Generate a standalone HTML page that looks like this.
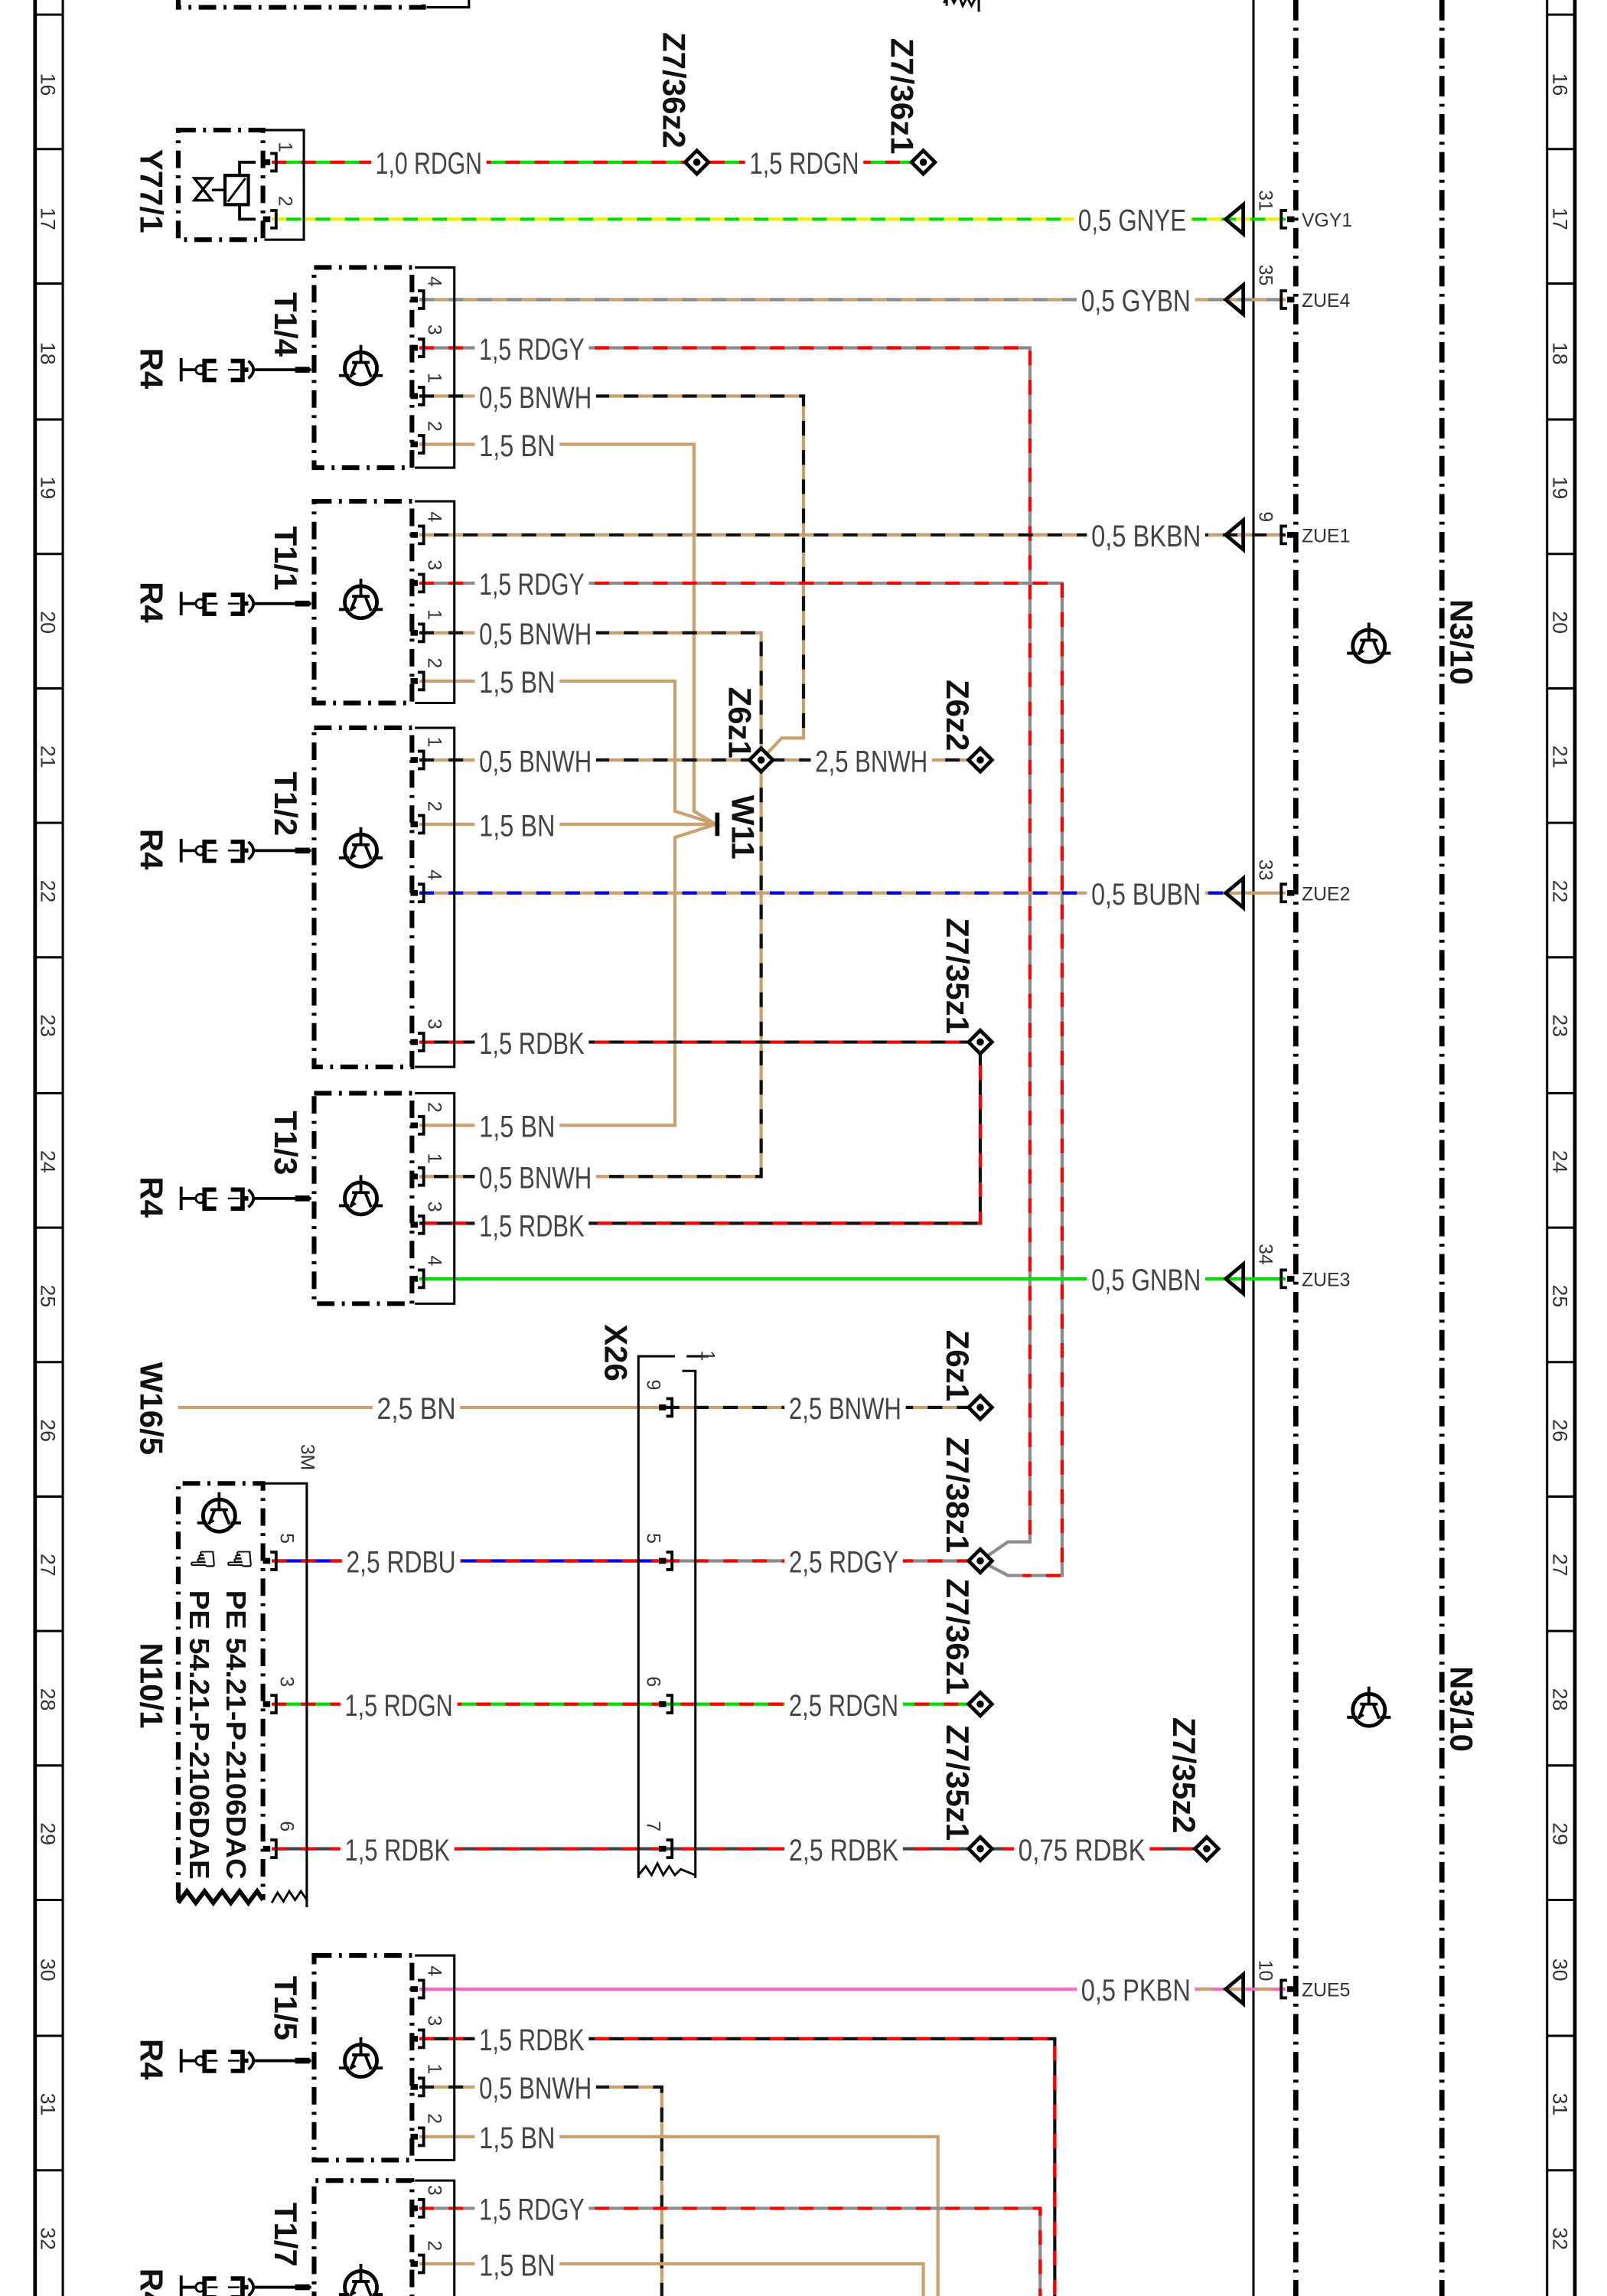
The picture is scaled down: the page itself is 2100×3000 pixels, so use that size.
<!DOCTYPE html>
<html><head><meta charset="utf-8">
<style>
html,body{margin:0;padding:0;background:#fff}
svg{display:block}
.w{fill:none;stroke-width:2.2}
.d{stroke-dasharray:10 10}
.rd{stroke:#ff0000}.gn{stroke:#00dd00}.ye{stroke:#f2ee00}.gy{stroke:#8c8c8c}.bn{stroke:#c9a06e}.bk{stroke:#111}.bu{stroke:#0000ee}.pk{stroke:#ff66c4}
.lbl{font-family:"Liberation Sans",sans-serif;font-size:21px;fill:#444}
.cmp{font-family:"Liberation Sans",sans-serif;font-size:22px;font-weight:bold;fill:#111}
.sm{font-family:"Liberation Sans",sans-serif;font-size:13px;fill:#333}
.num{font-family:"Liberation Sans",sans-serif;font-size:14px;fill:#333}
.dbox{fill:none;stroke:#000;stroke-width:3.2;stroke-dasharray:12 5 2 5}
.sol{fill:none;stroke:#000;stroke-width:1.6}
.dd{fill:none;stroke:#000;stroke-width:3.5;stroke-dasharray:14 5 2 5}
</style></head><body>
<svg width="2100" height="3000" viewBox="0 0 1100 1571" preserveAspectRatio="none" xmlns="http://www.w3.org/2000/svg">
<defs>
<symbol id="tr" overflow="visible">
<circle cx="0" cy="0" r="11" fill="none" stroke="#000" stroke-width="2.5"/>
<path d="M-15 5 H-8 M8 5 H15 M0 -16 V-4 M-6 -4 H6 M-3 -4 L-7 6 M3 -4 L7 6" stroke="#000" stroke-width="2" fill="none"/>
<path d="M-7 6 l1 -5 l3 3 z" fill="#000"/>
</symbol>
<symbol id="pin" overflow="visible">
<path d="M-1 -6 H3 V6 H-1" fill="none" stroke="#000" stroke-width="2"/>
<rect x="-6" y="-2" width="5" height="4" fill="#000"/>
</symbol>
<symbol id="pinR" overflow="visible">
<path d="M1 -6 H-3 V6 H1" fill="none" stroke="#000" stroke-width="2"/>
<rect x="1" y="-2" width="5" height="4" fill="#000"/>
</symbol>
<symbol id="dia" overflow="visible">
<path d="M-8 0 L0 -8 L8 0 L0 8 Z" fill="#fff" stroke="#000" stroke-width="2.5"/>
<circle r="2.5" fill="#000"/>
</symbol>
<symbol id="arr" overflow="visible">
<path d="M0 0 L12 -10 V10 Z" fill="none" stroke="#000" stroke-width="2.5"/>
</symbol>
<symbol id="r4" overflow="visible">
<path d="M2 -8 V8 M2 0 H12 M52 0 H91" stroke="#000" stroke-width="2" fill="none"/>
<circle cx="15" cy="0" r="3" fill="#fff" stroke="#000" stroke-width="1.5"/>
<path d="M26 -6 H18 V7 H26 M36 -6 H44 V7 H36 M44 0 H48" stroke="#000" stroke-width="3" fill="none"/>
<path d="M20 0 H27 M34 0 H42" stroke="#000" stroke-width="1.2"/>
<path d="M48 -6 Q55 0 48 6" stroke="#000" stroke-width="2" fill="none"/>
<rect x="80" y="-2" width="10" height="4" fill="#000"/>
</symbol>
</defs>

<g stroke="#000" fill="none">
<line x1="24" y1="0" x2="24" y2="1571" stroke-width="2.5"/>
<line x1="43" y1="0" x2="43" y2="1571" stroke-width="1.6"/>
<line x1="1059" y1="0" x2="1059" y2="1571" stroke-width="1.6"/>
<line x1="1078" y1="0" x2="1078" y2="1571" stroke-width="2.5"/>
<line x1="858" y1="0" x2="858" y2="1571" stroke-width="1.6"/>
</g>
<line class="dd" x1="887" y1="0" x2="887" y2="1571"/>
<line class="dd" x1="987" y1="0" x2="987" y2="1571"/>
<g stroke="#000" stroke-width="1.6">
<line x1="24" y1="10" x2="43" y2="10"/><line x1="24" y1="102" x2="43" y2="102"/><line x1="24" y1="194" x2="43" y2="194"/><line x1="24" y1="287" x2="43" y2="287"/><line x1="24" y1="379" x2="43" y2="379"/><line x1="24" y1="471" x2="43" y2="471"/><line x1="24" y1="563" x2="43" y2="563"/><line x1="24" y1="655" x2="43" y2="655"/><line x1="24" y1="748" x2="43" y2="748"/><line x1="24" y1="840" x2="43" y2="840"/><line x1="24" y1="932" x2="43" y2="932"/><line x1="24" y1="1024" x2="43" y2="1024"/><line x1="24" y1="1116" x2="43" y2="1116"/><line x1="24" y1="1208" x2="43" y2="1208"/><line x1="24" y1="1300" x2="43" y2="1300"/><line x1="24" y1="1393" x2="43" y2="1393"/><line x1="24" y1="1485" x2="43" y2="1485"/>
<line x1="1059" y1="10" x2="1078" y2="10"/><line x1="1059" y1="102" x2="1078" y2="102"/><line x1="1059" y1="194" x2="1078" y2="194"/><line x1="1059" y1="287" x2="1078" y2="287"/><line x1="1059" y1="379" x2="1078" y2="379"/><line x1="1059" y1="471" x2="1078" y2="471"/><line x1="1059" y1="563" x2="1078" y2="563"/><line x1="1059" y1="655" x2="1078" y2="655"/><line x1="1059" y1="748" x2="1078" y2="748"/><line x1="1059" y1="840" x2="1078" y2="840"/><line x1="1059" y1="932" x2="1078" y2="932"/><line x1="1059" y1="1024" x2="1078" y2="1024"/><line x1="1059" y1="1116" x2="1078" y2="1116"/><line x1="1059" y1="1208" x2="1078" y2="1208"/><line x1="1059" y1="1300" x2="1078" y2="1300"/><line x1="1059" y1="1393" x2="1078" y2="1393"/><line x1="1059" y1="1485" x2="1078" y2="1485"/>
</g>
<g class="num">
<text transform="translate(28,50) rotate(90)">16</text><text transform="translate(28,142) rotate(90)">17</text><text transform="translate(28,234) rotate(90)">18</text><text transform="translate(28,326) rotate(90)">19</text><text transform="translate(28,418) rotate(90)">20</text><text transform="translate(28,510) rotate(90)">21</text><text transform="translate(28,602) rotate(90)">22</text><text transform="translate(28,694) rotate(90)">23</text><text transform="translate(28,787) rotate(90)">24</text><text transform="translate(28,879) rotate(90)">25</text><text transform="translate(28,971) rotate(90)">26</text><text transform="translate(28,1063) rotate(90)">27</text><text transform="translate(28,1155) rotate(90)">28</text><text transform="translate(28,1247) rotate(90)">29</text><text transform="translate(28,1340) rotate(90)">30</text><text transform="translate(28,1432) rotate(90)">31</text><text transform="translate(28,1524) rotate(90)">32</text>
<text transform="translate(1063,50) rotate(90)">16</text><text transform="translate(1063,142) rotate(90)">17</text><text transform="translate(1063,234) rotate(90)">18</text><text transform="translate(1063,326) rotate(90)">19</text><text transform="translate(1063,418) rotate(90)">20</text><text transform="translate(1063,510) rotate(90)">21</text><text transform="translate(1063,602) rotate(90)">22</text><text transform="translate(1063,694) rotate(90)">23</text><text transform="translate(1063,787) rotate(90)">24</text><text transform="translate(1063,879) rotate(90)">25</text><text transform="translate(1063,971) rotate(90)">26</text><text transform="translate(1063,1063) rotate(90)">27</text><text transform="translate(1063,1155) rotate(90)">28</text><text transform="translate(1063,1247) rotate(90)">29</text><text transform="translate(1063,1340) rotate(90)">30</text><text transform="translate(1063,1432) rotate(90)">31</text><text transform="translate(1063,1524) rotate(90)">32</text>
</g>

<path class="dbox" d="M122 -5 V5 H290 V-5"/>
<path class="sol" d="M292 5 H321 V-5"/>
<path d="M646 2 l4 -6 l3 6 l3 -6 l3 8 l3 -6 l3 6 l3 -6" fill="none" stroke="#000" stroke-width="1.5"/>
<path class="sol" d="M648 -2 V4 M670 -2 V8"/>

<g class="w">
<path class="gn" d="M186 111 H632"/><path class="rd d" d="M186 111 H632"/>
<path class="gn" d="M186 150 H880"/><path class="ye d" d="M186 150 H880"/>
<path class="bn" d="M287 205 H880"/><path class="gy d" d="M287 205 H880"/>
<path class="gy" d="M287 238 H705 V1055 H690 L671 1068"/><path class="rd d" d="M287 238 H705 V1055"/>
<path class="bn" d="M287 271 H550 V505 H535 L521 520"/><path class="bk d" d="M287 271 H550 V505"/>
<path class="bn" d="M287 304 H475 V555 L490 564"/>
<path class="bk" d="M287 366 H880"/><path class="bn d" d="M287 366 H880"/>
<path class="gy" d="M287 399 H727 V1078 H690 L671 1068"/><path class="rd d" d="M287 399 H727 V1078 H700"/>
<path class="bn" d="M287 433 H521 V805 H287"/><path class="bk d" d="M287 433 H521 V805 H287"/>
<path class="bn" d="M287 466 H462 V555 L490 564 L462 573 V770 H287"/>
<path class="bn" d="M287 520 H671"/><path class="bk d" d="M287 520 H671"/>
<path class="bn" d="M287 564 H490"/>
<path class="bn" d="M287 611 H880"/><path class="bu d" d="M287 611 H845"/>
<path class="bk" d="M287 713 H671 V837 H287"/><path class="rd d" d="M287 713 H671 V837 H287"/>
<path class="gn" d="M287 875 H880"/>
<path class="bn" d="M122 963 H671"/><path class="bk d" d="M455 963 H671"/>
<path class="bu" d="M186 1068 H455"/><path class="rd d" d="M186 1068 H455"/>
<path class="gy" d="M455 1068 H671"/><path class="rd d" d="M455 1068 H671"/>
<path class="gn" d="M186 1166 H671"/><path class="rd d" d="M186 1166 H671"/>
<path class="bk" d="M186 1265 H826" style="stroke:#444"/><path class="rd d" d="M186 1265 H826"/>
<path class="pk" d="M287 1361 H880"/><path class="bn d" d="M740 1361 H880"/>
<path class="bk" d="M287 1395 H722 V1575"/><path class="rd d" d="M287 1395 H722 V1575"/>
<path class="bn" d="M287 1428 H453 V1575"/><path class="bk d" d="M287 1428 H453 V1575"/>
<path class="bn" d="M287 1462 H642 V1575"/>
<path class="gy" d="M287 1511 H712 V1575"/><path class="rd d" d="M287 1511 H712 V1575"/>
<path class="bn" d="M287 1549 H632 V1575"/>
</g>
<line x1="491" y1="556" x2="491" y2="572" stroke="#000" stroke-width="3"/>
<text class="cmp" transform="translate(501,544) rotate(90)">W11</text>

<g fill="#fff">
<rect x="254" y="100" width="79" height="22"/><rect x="510" y="100" width="81" height="22"/><rect x="735" y="139" width="80" height="22"/><rect x="737" y="194" width="81" height="22"/>
<rect x="325" y="227" width="78" height="22"/><rect x="325" y="260" width="83" height="22"/><rect x="325" y="293" width="58" height="22"/>
<rect x="744" y="355" width="81" height="22"/><rect x="325" y="388" width="78" height="22"/><rect x="325" y="422" width="83" height="22"/><rect x="325" y="455" width="58" height="22"/>
<rect x="325" y="509" width="83" height="22"/><rect x="555" y="509" width="83" height="22"/><rect x="325" y="553" width="58" height="22"/><rect x="744" y="600" width="81" height="22"/><rect x="325" y="702" width="78" height="22"/>
<rect x="325" y="759" width="58" height="22"/><rect x="325" y="794" width="83" height="22"/><rect x="325" y="827" width="78" height="22"/><rect x="744" y="864" width="81" height="22"/>
<rect x="255" y="952" width="60" height="22"/><rect x="537" y="952" width="83" height="22"/><rect x="234" y="1057" width="81" height="22"/><rect x="537" y="1057" width="81" height="22"/>
<rect x="233" y="1155" width="80" height="22"/><rect x="537" y="1155" width="81" height="22"/><rect x="233" y="1254" width="78" height="22"/><rect x="537" y="1254" width="81" height="22"/><rect x="694" y="1254" width="93" height="22"/>
<rect x="737" y="1350" width="81" height="22"/><rect x="325" y="1384" width="78" height="22"/><rect x="325" y="1417" width="83" height="22"/><rect x="325" y="1451" width="58" height="22"/><rect x="325" y="1500" width="78" height="22"/><rect x="325" y="1538" width="58" height="22"/>
</g>
<g class="lbl">
<text x="257" y="119" textLength="73" lengthAdjust="spacingAndGlyphs">1,0 RDGN</text>
<text x="513" y="119" textLength="75" lengthAdjust="spacingAndGlyphs">1,5 RDGN</text>
<text x="738" y="158" textLength="74" lengthAdjust="spacingAndGlyphs">0,5 GNYE</text>
<text x="740" y="213" textLength="75" lengthAdjust="spacingAndGlyphs">0,5 GYBN</text>
<text x="328" y="246" textLength="72" lengthAdjust="spacingAndGlyphs">1,5 RDGY</text>
<text x="328" y="279" textLength="77" lengthAdjust="spacingAndGlyphs">0,5 BNWH</text>
<text x="328" y="312" textLength="52" lengthAdjust="spacingAndGlyphs">1,5 BN</text>
<text x="747" y="374" textLength="75" lengthAdjust="spacingAndGlyphs">0,5 BKBN</text>
<text x="328" y="407" textLength="72" lengthAdjust="spacingAndGlyphs">1,5 RDGY</text>
<text x="328" y="441" textLength="77" lengthAdjust="spacingAndGlyphs">0,5 BNWH</text>
<text x="328" y="474" textLength="52" lengthAdjust="spacingAndGlyphs">1,5 BN</text>
<text x="328" y="528" textLength="77" lengthAdjust="spacingAndGlyphs">0,5 BNWH</text>
<text x="558" y="528" textLength="77" lengthAdjust="spacingAndGlyphs">2,5 BNWH</text>
<text x="328" y="572" textLength="52" lengthAdjust="spacingAndGlyphs">1,5 BN</text>
<text x="747" y="619" textLength="75" lengthAdjust="spacingAndGlyphs">0,5 BUBN</text>
<text x="328" y="721" textLength="72" lengthAdjust="spacingAndGlyphs">1,5 RDBK</text>
<text x="328" y="778" textLength="52" lengthAdjust="spacingAndGlyphs">1,5 BN</text>
<text x="328" y="813" textLength="77" lengthAdjust="spacingAndGlyphs">0,5 BNWH</text>
<text x="328" y="846" textLength="72" lengthAdjust="spacingAndGlyphs">1,5 RDBK</text>
<text x="747" y="883" textLength="75" lengthAdjust="spacingAndGlyphs">0,5 GNBN</text>
<text x="258" y="971" textLength="54" lengthAdjust="spacingAndGlyphs">2,5 BN</text>
<text x="540" y="971" textLength="77" lengthAdjust="spacingAndGlyphs">2,5 BNWH</text>
<text x="237" y="1076" textLength="75" lengthAdjust="spacingAndGlyphs">2,5 RDBU</text>
<text x="540" y="1076" textLength="75" lengthAdjust="spacingAndGlyphs">2,5 RDGY</text>
<text x="236" y="1174" textLength="74" lengthAdjust="spacingAndGlyphs">1,5 RDGN</text>
<text x="540" y="1174" textLength="75" lengthAdjust="spacingAndGlyphs">2,5 RDGN</text>
<text x="236" y="1273" textLength="72" lengthAdjust="spacingAndGlyphs">1,5 RDBK</text>
<text x="540" y="1273" textLength="75" lengthAdjust="spacingAndGlyphs">2,5 RDBK</text>
<text x="697" y="1273" textLength="87" lengthAdjust="spacingAndGlyphs">0,75 RDBK</text>
<text x="740" y="1369" textLength="75" lengthAdjust="spacingAndGlyphs">0,5 PKBN</text>
<text x="328" y="1403" textLength="72" lengthAdjust="spacingAndGlyphs">1,5 RDBK</text>
<text x="328" y="1436" textLength="77" lengthAdjust="spacingAndGlyphs">0,5 BNWH</text>
<text x="328" y="1470" textLength="52" lengthAdjust="spacingAndGlyphs">1,5 BN</text>
<text x="328" y="1519" textLength="72" lengthAdjust="spacingAndGlyphs">1,5 RDGY</text>
<text x="328" y="1557" textLength="52" lengthAdjust="spacingAndGlyphs">1,5 BN</text>
</g>

<rect class="dbox" x="122" y="89" width="58" height="75"/>
<path class="sol" d="M181 89 H208 V164 H181"/>
<path d="M175 111 H164 V120 M164 140 V150 H175" stroke="#000" stroke-width="2" fill="none"/>
<rect x="154" y="120" width="16" height="20" fill="#fff" stroke="#000" stroke-width="2.2"/>
<line x1="156" y1="138" x2="168" y2="122" stroke="#000" stroke-width="1.5"/>
<path d="M133 122 L145 137 H133 L145 122 Z M145 130 H154" fill="none" stroke="#000" stroke-width="1.8"/>
<use href="#pin" x="186" y="111"/><use href="#pin" x="186" y="150"/>
<text class="sm" transform="translate(191,97) rotate(90)">1</text><text class="sm" transform="translate(191,134) rotate(90)">2</text>
<text class="cmp" transform="translate(96,102) rotate(90)">Y77/1</text>
<use href="#dia" x="477" y="111"/><use href="#dia" x="632" y="111"/>
<text class="cmp" transform="translate(454,22) rotate(90)">Z7/36z2</text>
<text class="cmp" transform="translate(610,26) rotate(90)">Z7/36z1</text>

<g>
<rect class="dbox" x="215" y="183" width="67" height="137"/><path class="sol" d="M284 183 H311 V320 H284"/>
<rect class="dbox" x="215" y="343" width="67" height="138"/><path class="sol" d="M284 343 H311 V481 H284"/>
<rect class="dbox" x="215" y="498" width="67" height="232"/><path class="sol" d="M284 498 H311 V730 H284"/>
<rect class="dbox" x="215" y="748" width="67" height="144"/><path class="sol" d="M284 748 H311 V892 H284"/>
<rect class="dbox" x="215" y="1338" width="67" height="140"/><path class="sol" d="M284 1338 H311 V1478 H284"/>
<path class="dbox" d="M215 1580 V1492 H282 V1580"/><path class="sol" d="M284 1492 H311 V1580"/>
</g>
<use href="#tr" x="247" y="252"/><use href="#tr" x="247" y="412"/><use href="#tr" x="247" y="582"/><use href="#tr" x="247" y="820"/><use href="#tr" x="247" y="1410"/><use href="#tr" x="247" y="1565"/>
<use href="#r4" x="122" y="253"/><use href="#r4" x="122" y="413"/><use href="#r4" x="122" y="582"/><use href="#r4" x="122" y="820"/><use href="#r4" x="122" y="1410"/><use href="#r4" x="122" y="1565"/>
<g class="cmp">
<text transform="translate(188,200) rotate(90)">T1/4</text><text transform="translate(96,238) rotate(90)">R4</text>
<text transform="translate(188,360) rotate(90)">T1/1</text><text transform="translate(96,398) rotate(90)">R4</text>
<text transform="translate(188,528) rotate(90)">T1/2</text><text transform="translate(96,567) rotate(90)">R4</text>
<text transform="translate(188,760) rotate(90)">T1/3</text><text transform="translate(96,805) rotate(90)">R4</text>
<text transform="translate(188,1352) rotate(90)">T1/5</text><text transform="translate(96,1395) rotate(90)">R4</text>
<text transform="translate(188,1507) rotate(90)">T1/7</text><text transform="translate(96,1552) rotate(90)">R4</text>
</g>
<g>
<use href="#pin" x="287" y="205"/><use href="#pin" x="287" y="238"/><use href="#pin" x="287" y="271"/><use href="#pin" x="287" y="304"/>
<use href="#pin" x="287" y="366"/><use href="#pin" x="287" y="399"/><use href="#pin" x="287" y="433"/><use href="#pin" x="287" y="466"/>
<use href="#pin" x="287" y="520"/><use href="#pin" x="287" y="564"/><use href="#pin" x="287" y="611"/><use href="#pin" x="287" y="713"/>
<use href="#pin" x="287" y="770"/><use href="#pin" x="287" y="805"/><use href="#pin" x="287" y="838"/><use href="#pin" x="287" y="875"/>
<use href="#pin" x="287" y="1361"/><use href="#pin" x="287" y="1395"/><use href="#pin" x="287" y="1428"/><use href="#pin" x="287" y="1462"/>
<use href="#pin" x="287" y="1511"/><use href="#pin" x="287" y="1549"/>
</g>
<g class="sm">
<text transform="translate(293,189) rotate(90)">4</text><text transform="translate(293,222) rotate(90)">3</text><text transform="translate(293,255) rotate(90)">1</text><text transform="translate(293,288) rotate(90)">2</text>
<text transform="translate(293,350) rotate(90)">4</text><text transform="translate(293,383) rotate(90)">3</text><text transform="translate(293,417) rotate(90)">1</text><text transform="translate(293,450) rotate(90)">2</text>
<text transform="translate(293,504) rotate(90)">1</text><text transform="translate(293,548) rotate(90)">2</text><text transform="translate(293,595) rotate(90)">4</text><text transform="translate(293,697) rotate(90)">3</text>
<text transform="translate(293,754) rotate(90)">2</text><text transform="translate(293,789) rotate(90)">1</text><text transform="translate(293,822) rotate(90)">3</text><text transform="translate(293,859) rotate(90)">4</text>
<text transform="translate(293,1345) rotate(90)">4</text><text transform="translate(293,1379) rotate(90)">3</text><text transform="translate(293,1412) rotate(90)">1</text><text transform="translate(293,1446) rotate(90)">2</text>
<text transform="translate(293,1495) rotate(90)">3</text><text transform="translate(293,1533) rotate(90)">2</text>
</g>

<use href="#dia" x="521" y="520"/><use href="#dia" x="671" y="520"/><use href="#dia" x="671" y="713"/>
<use href="#dia" x="671" y="963"/><use href="#dia" x="671" y="1068"/><use href="#dia" x="671" y="1166"/><use href="#dia" x="671" y="1265"/><use href="#dia" x="826" y="1265"/>
<g class="cmp">
<text transform="translate(499,470) rotate(90)">Z6z1</text>
<text transform="translate(648,465) rotate(90)">Z6z2</text>
<text transform="translate(648,628) rotate(90)">Z7/35z1</text>
<text transform="translate(648,910) rotate(90)">Z6z1</text>
<text transform="translate(648,983) rotate(90)">Z7/38z1</text>
<text transform="translate(648,1080) rotate(90)">Z7/36z1</text>
<text transform="translate(648,1180) rotate(90)">Z7/35z1</text>
<text transform="translate(803,1175) rotate(90)">Z7/35z2</text>
<text transform="translate(96,932) rotate(90)">W16/5</text>
<text transform="translate(414,906) rotate(90)">X26</text>
<text transform="translate(96,1124) rotate(90)">N10/1</text>
<text transform="translate(993,410) rotate(90)">N3/10</text>
<text transform="translate(993,1140) rotate(90)">N3/10</text>
</g>
<use href="#tr" x="937" y="442"/><use href="#tr" x="937" y="1170"/>

<use href="#arr" x="839" y="150"/><use href="#arr" x="839" y="205"/><use href="#arr" x="839" y="366"/><use href="#arr" x="839" y="611"/><use href="#arr" x="839" y="875"/><use href="#arr" x="839" y="1361"/>
<use href="#pinR" x="880" y="150"/><use href="#pinR" x="880" y="205"/><use href="#pinR" x="880" y="366"/><use href="#pinR" x="880" y="611"/><use href="#pinR" x="880" y="875"/><use href="#pinR" x="880" y="1361"/>
<g class="sm">
<text x="891" y="155">VGY1</text><text x="891" y="210">ZUE4</text><text x="891" y="371">ZUE1</text><text x="891" y="616">ZUE2</text><text x="891" y="880">ZUE3</text><text x="891" y="1366">ZUE5</text>
<text transform="translate(862,130) rotate(90)">31</text><text transform="translate(862,181) rotate(90)">35</text><text transform="translate(862,350) rotate(90)">9</text><text transform="translate(862,588) rotate(90)">33</text><text transform="translate(862,851) rotate(90)">34</text><text transform="translate(862,1341) rotate(90)">10</text>
</g>

<path class="sol" d="M437 1285 V928 H462 M467 938 H476 V1285"/>
<path class="sol" d="M470 928 H485"/>
<path d="M437 1283 l5 -6 l4 6 l4 -8 l4 8 l4 -6 l4 6 l4 -4 l10 4" fill="none" stroke="#000" stroke-width="1.5"/>
<text class="sm" transform="translate(480,924) rotate(90)">1</text>
<use href="#pin" x="457" y="963"/><use href="#pin" x="457" y="1068"/><use href="#pin" x="457" y="1166"/><use href="#pin" x="457" y="1265"/>
<g class="sm"><text transform="translate(443,944) rotate(90)">9</text><text transform="translate(443,1049) rotate(90)">5</text><text transform="translate(443,1147) rotate(90)">6</text><text transform="translate(443,1246) rotate(90)">7</text></g>

<path class="dbox" d="M122 1300 V1015 H180 V1300"/>
<path d="M122 1302 l6 -8 l6 8 l6 -8 l6 8 l6 -8 l6 8 l6 -8 l6 8 l6 -8 l4 6" fill="none" stroke="#000" stroke-width="3"/>
<path class="sol" d="M181 1015 H210 V1305"/>
<path d="M186 1302 l4 -7 l4 6 l4 -7 l4 6 l4 -6 l4 6" fill="none" stroke="#000" stroke-width="1.5"/>
<text class="sm" transform="translate(206,988) rotate(90)">3M</text>
<use href="#tr" x="150" y="1037"/>
<g class="cmp" style="font-size:22px">
<text transform="translate(156,1060) rotate(90)">☟</text>
<text transform="translate(131,1060) rotate(90)">☟</text>
</g>
<g class="cmp" style="font-size:19px">
<text transform="translate(155,1088) rotate(90)" textLength="198" lengthAdjust="spacingAndGlyphs">PE 54.21-P-2106DAC</text>
<text transform="translate(130,1088) rotate(90)" textLength="198" lengthAdjust="spacingAndGlyphs">PE 54.21-P-2106DAE</text>
</g>
<use href="#pin" x="186" y="1068"/><use href="#pin" x="186" y="1166"/><use href="#pin" x="186" y="1265"/>
<g class="sm"><text transform="translate(192,1049) rotate(90)">5</text><text transform="translate(192,1147) rotate(90)">3</text><text transform="translate(192,1246) rotate(90)">6</text></g>
</svg>
</body></html>
